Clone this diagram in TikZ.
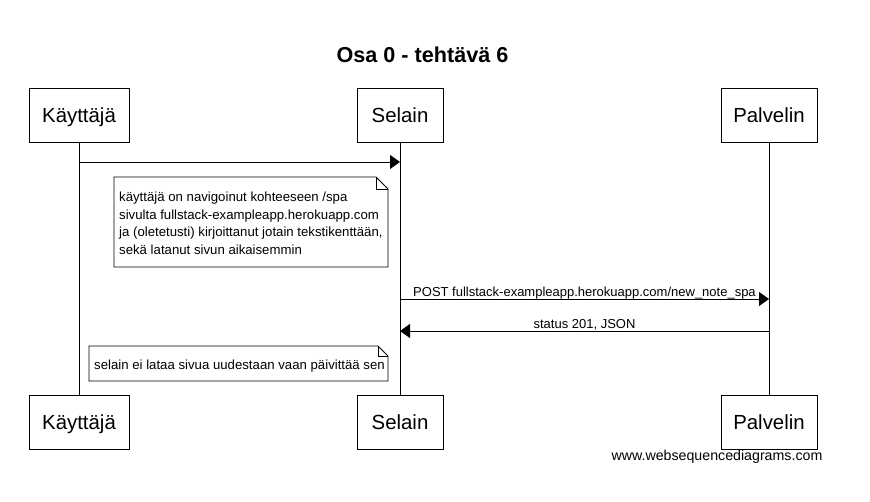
\documentclass[tikz,border=0pt]{standalone}
\usepackage{fontspec}
\setmainfont{Liberation Sans}
\usetikzlibrary{positioning, arrows.meta, calc}
\definecolor{lineBlack}{HTML}{000000}
\definecolor{noteFill}{HTML}{FFFFFF}
\tikzset{
  actor/.style={draw=lineBlack, fill=white, minimum width=100pt, minimum height=54pt,
    font=\fontsize{20.4}{24}\selectfont, line width=0.8pt, inner sep=0pt,
    text height=14.6pt, text depth=0pt},
  lifeline/.style={line width=0.8pt, color=lineBlack},
  msgarrow/.style={-{Triangle[length=10pt, width=14pt]}, line width=0.8pt, color=lineBlack},
  msglabel/.style={font=\fontsize{13}{15}\selectfont, anchor=base, yshift=2.5pt, inner sep=0pt},
  notetext/.style={font=\fontsize{13.2}{17.5}\selectfont, align=left, anchor=base west,
    inner sep=0pt},
  noteline/.style={draw=lineBlack, fill=noteFill, line width=0.8pt},
}

\begin{document}
\begin{tikzpicture}[x=1pt, y=-1pt]
  \useasboundingbox (0,0) rectangle (870,502);

  % === Title ===
  \node[font=\bfseries\fontsize{21.6}{24}\selectfont, anchor=base, inner sep=0pt] (title) at (422.5,63) {Osa 0 - tehtävä 6};

  % === Actors top ===
  \node[actor] (kayttajaTop) at (79,115) {Käyttäjä};
  \node[actor, minimum width=86pt] (selainTop) at (400,115) {Selain};
  \node[actor, minimum width=96pt] (palvelinTop) at (769,115) {Palvelin};

  % === Actors bottom ===
  \node[actor] (kayttajaBot) at (79,422) {Käyttäjä};
  \node[actor, minimum width=86pt] (selainBot) at (400,422) {Selain};
  \node[actor, minimum width=96pt] (palvelinBot) at (769,422) {Palvelin};

  % Lifelines
  \draw[lifeline] (kayttajaTop.south) -- (kayttajaBot.north);
  \draw[lifeline] (selainTop.south) -- (selainBot.north);
  \draw[lifeline] (palvelinTop.south) -- (palvelinBot.north);

  % === Messages ===
  \coordinate (m1a) at (kayttajaTop.south |- 0,162);
  \coordinate (m1b) at (selainTop.south |- 0,162);
  \draw[msgarrow] (m1a) -- (m1b);

  \coordinate (m2a) at (selainTop.south |- 0,299);
  \coordinate (m2b) at (palvelinTop.south |- 0,299);
  \draw[msgarrow] (m2a) -- node[msglabel] {POST fullstack-exampleapp.herokuapp.com/new\_note\_spa} (m2b);

  \coordinate (m3a) at (palvelinTop.south |- 0,331);
  \coordinate (m3b) at (selainTop.south |- 0,331);
  \draw[msgarrow] (m3a) -- node[msglabel] {status 201, JSON} (m3b);

  % === Notes ===
  \coordinate (n1nw) at (114,177);
  \coordinate (n1se) at (388,267);
  \draw[noteline] (n1nw) -- ($(n1se |- n1nw)+(-12,0)$) -- ($(n1se |- n1nw)+(0,12)$)
    -- (n1se) -- (n1nw |- n1se) -- cycle;
  \draw[lifeline] ($(n1se |- n1nw)+(-12,0)$) -- ++(0,12) -- ($(n1se |- n1nw)+(0,12)$);
  \node[notetext] (note1) at (119,254.5) {käyttäjä on navigoinut kohteeseen /spa\\
    sivulta fullstack-exampleapp.herokuapp.com\\
    ja (oletetusti) kirjoittanut jotain tekstikenttään,\\
    sekä latanut sivun aikaisemmin};

  \coordinate (n2nw) at (89,346);
  \coordinate (n2se) at (388,381);
  \draw[noteline] (n2nw) -- ($(n2se |- n2nw)+(-10,0)$) -- ($(n2se |- n2nw)+(0,10)$)
    -- (n2se) -- (n2nw |- n2se) -- cycle;
  \draw[lifeline] ($(n2se |- n2nw)+(-10,0)$) -- ++(0,10) -- ($(n2se |- n2nw)+(0,10)$);
  \node[notetext] (note2) at (94,370) {selain ei lataa sivua uudestaan vaan päivittää sen};

  % === Watermark ===
  \node[font=\fontsize{14.2}{16}\selectfont] (wsd) at (717,457) {www.websequencediagrams.com};

\end{tikzpicture}
\end{document}
